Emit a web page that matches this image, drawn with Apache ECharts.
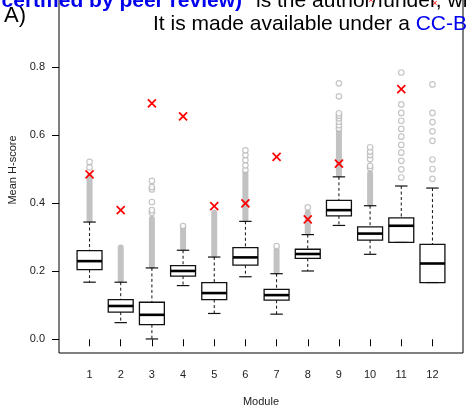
<!DOCTYPE html>
<html>
<head>
<meta charset="utf-8">
<script src="https://cdn.jsdelivr.net/npm/echarts@6/dist/echarts.min.js"></script>
<style>
  html, body { margin: 0; padding: 0; background: #fff; }
  #chart { width: 466px; height: 407px; }
</style>
</head>
<body>
<div id="chart"></div>
<script>
// box statistics per module
const modules = [1, 2, 3, 4, 5, 6, 7, 8, 9, 10, 11, 12];
const whiskerLow = [0.168, 0.049, 0.001, 0.158, 0.076, 0.184, 0.074, 0.201, 0.335, 0.250, 0.285, 0.167];
const q1 = [0.205, 0.080, 0.043, 0.186, 0.117, 0.218, 0.115, 0.238, 0.363, 0.292, 0.285, 0.167];
const median = [0.230, 0.098, 0.072, 0.201, 0.136, 0.241, 0.130, 0.251, 0.380, 0.311, 0.334, 0.223];
const q3 = [0.261, 0.117, 0.109, 0.217, 0.167, 0.270, 0.147, 0.265, 0.409, 0.331, 0.357, 0.279];
const whiskerHigh = [0.345, 0.168, 0.210, 0.262, 0.242, 0.347, 0.193, 0.308, 0.478, 0.393, 0.451, 0.445];

// top of the packed outlier cloud (circles overlap into a solid band)
const denseTop = [0.480, 0.270, 0.355, 0.326, 0.372, 0.490, 0.262, 0.372, 0.610, 0.488, null, null];

// separate outlier circles
const outliers = [
  [0.506, 0.522],
  [],
  [0.372, 0.380, 0.404, 0.441, 0.448, 0.466],
  [0.333],
  [],
  [0.498, 0.512, 0.527, 0.542, 0.556],
  [0.274],
  [0.388],
  [0.620, 0.630, 0.640, 0.650, 0.658, 0.665, 0.715, 0.753],
  [0.503, 0.510, 0.530, 0.542, 0.552, 0.565],
  [0.476, 0.500, 0.525, 0.549, 0.572, 0.596, 0.619, 0.643, 0.666, 0.691, 0.785],
  [0.472, 0.501, 0.529, 0.584, 0.612, 0.639, 0.666, 0.750]
];

// observed value (red cross)
const observed = [0.485, 0.380, 0.694, 0.656, 0.392, 0.400, 0.537, 0.353, 0.517, null, 0.736, null];

const yTicks = [0, 0.2, 0.4, 0.6, 0.8];

const FONT = '"Liberation Sans", Arial, Helvetica, sans-serif';
const TXT = '#222';

const boxData = modules.map((m, i) => [m, whiskerLow[i], q1[i], median[i], q3[i], whiskerHigh[i]]);
const denseData = modules.map((m, i) => [m, whiskerHigh[i], denseTop[i]]).filter(d => d[2] != null);
const outlierData = [];
modules.forEach((m, i) => outliers[i].forEach(v => outlierData.push([m, v])));
const crossData = modules.map((m, i) => [m, observed[i]]).filter(d => d[1] != null);

function renderBox(params, api) {
  const x = api.value(0);
  const c = v => api.coord([x, v]);
  const half = api.size([0.8, 0])[0] / 2;
  const capHalf = api.size([0.4, 0])[0] / 2;
  const lo = c(api.value(1)), b1 = c(api.value(2)), md = c(api.value(3)), b3 = c(api.value(4)), hi = c(api.value(5));
  const cx = md[0];
  const dash = { stroke: '#111', lineWidth: 1, lineDash: [3, 2.5] };
  const solid = { stroke: '#111', lineWidth: 1.2 };
  return {
    type: 'group',
    children: [
      { type: 'line', shape: { x1: cx, y1: hi[1], x2: cx, y2: b3[1] }, style: dash },
      { type: 'line', shape: { x1: cx, y1: b1[1], x2: cx, y2: lo[1] }, style: dash },
      { type: 'line', shape: { x1: cx - capHalf, y1: hi[1], x2: cx + capHalf, y2: hi[1] }, style: solid },
      { type: 'line', shape: { x1: cx - capHalf, y1: lo[1], x2: cx + capHalf, y2: lo[1] }, style: solid },
      { type: 'rect', shape: { x: cx - half, y: b3[1], width: half * 2, height: b1[1] - b3[1] },
        style: { fill: 'none', stroke: '#111', lineWidth: 1.3 } },
      { type: 'line', shape: { x1: cx - half, y1: md[1], x2: cx + half, y2: md[1] },
        style: { stroke: '#000', lineWidth: 2.6 } }
    ]
  };
}

function renderDense(params, api) {
  const x = api.value(0);
  const a = api.coord([x, api.value(1)]);
  const b = api.coord([x, api.value(2)]);
  return {
    type: 'line',
    shape: { x1: a[0], y1: a[1] - 2, x2: b[0], y2: b[1] },
    style: { stroke: '#c2c2c2', lineWidth: 6, lineCap: 'round' }
  };
}

function renderCross(params, api) {
  const p = api.coord([api.value(0), api.value(1)]);
  const s = 4;
  const st = { stroke: '#ff0000', lineWidth: 1.7 };
  return {
    type: 'group',
    children: [
      { type: 'line', shape: { x1: p[0] - s, y1: p[1] - s, x2: p[0] + s, y2: p[1] + s }, style: st },
      { type: 'line', shape: { x1: p[0] - s, y1: p[1] + s, x2: p[0] + s, y2: p[1] - s }, style: st }
    ]
  };
}

const chart = echarts.init(document.getElementById('chart'), null, { renderer: 'canvas' });

chart.setOption({
  animation: false,
  backgroundColor: '#fff',
  grid: {
    left: 59, right: 3, top: -13, bottom: 54,
    containLabel: false,
    outerBoundsMode: 'none',
    show: true, borderColor: '#000', borderWidth: 1, backgroundColor: 'transparent'
  },
  xAxis: {
    type: 'value',
    min: 0.02,
    max: 12.98,
    name: 'Module',
    nameLocation: 'middle',
    nameGap: 43,
    nameTextStyle: { fontFamily: FONT, fontSize: 11, color: TXT },
    axisLine: { show: false },
    splitLine: { show: false },
    axisTick: { show: true, length: 7, customValues: modules, lineStyle: { color: '#000', width: 1 } },
    axisLabel: { customValues: modules, margin: 16, fontFamily: FONT, fontSize: 11, color: TXT }
  },
  yAxis: {
    type: 'value',
    min: -0.0403,
    max: 1.0365,
    name: 'Mean H-score',
    nameLocation: 'middle',
    nameGap: 41,
    nameTextStyle: { fontFamily: FONT, fontSize: 11, color: TXT },
    axisLine: { show: false },
    splitLine: { show: false },
    axisTick: { show: true, length: 7, customValues: yTicks, lineStyle: { color: '#000', width: 1 } },
    axisLabel: {
      customValues: yTicks, margin: 14, fontFamily: FONT, fontSize: 11, color: TXT,
      formatter: v => v.toFixed(1)
    }
  },
  series: [
    {
      type: 'custom',
      renderItem: renderDense,
      data: denseData,
      encode: { x: 0, y: [1, 2] },
      z: 1,
      silent: true
    },
    {
      type: 'scatter',
      data: outlierData,
      symbol: 'circle',
      symbolSize: 5.5,
      itemStyle: { color: '#fff', borderColor: '#b8b8b8', borderWidth: 1.2 },
      z: 2,
      silent: true
    },
    {
      type: 'custom',
      renderItem: renderBox,
      data: boxData,
      encode: { x: 0, y: [1, 2, 3, 4, 5] },
      z: 3,
      silent: true
    },
    {
      type: 'custom',
      renderItem: renderCross,
      data: crossData,
      encode: { x: 0, y: 1 },
      z: 4,
      silent: true
    }
  ],
  graphic: [
    {
      type: 'text', x: 4, y: 16, z: 10,
      style: { text: 'A)', font: '22px ' + FONT, fill: '#000', verticalAlign: 'middle' }
    },
    {
      type: 'text', x: 242, y: 1.5, z: 10,
      style: { text: 'certified by peer review)', font: 'bold 21px ' + FONT, fill: '#0000ee',
               align: 'right', verticalAlign: 'middle' }
    },
    {
      type: 'text', x: 256, y: 1.5, z: 10,
      style: { text: 'is the author/funder, who has granted bioRxiv a license', font: '21px ' + FONT, fill: '#000',
               align: 'left', verticalAlign: 'middle' }
    },
    {
      type: 'text', x: 371, y: 1, z: 11,
      style: { text: '\u00d7', font: '9px ' + FONT, fill: '#ff0000', align: 'center', verticalAlign: 'middle' }
    },
    {
      type: 'text', x: 435, y: 4, z: 11,
      style: { text: '\u00d7', font: '9px ' + FONT, fill: '#ff0000', align: 'center', verticalAlign: 'middle' }
    },
    {
      type: 'text', x: 153, y: 24.5, z: 10,
      style: {
        text: '{a|It is made available under a }{b|CC-BY-NC-ND 4.0}',
        verticalAlign: 'middle',
        rich: {
          a: { font: '21px ' + FONT, fill: '#000', color: '#000' },
          b: { font: '21px ' + FONT, fill: '#0000ee', color: '#0000ee' }
        }
      }
    }
  ]
});
</script>
</body>
</html>
